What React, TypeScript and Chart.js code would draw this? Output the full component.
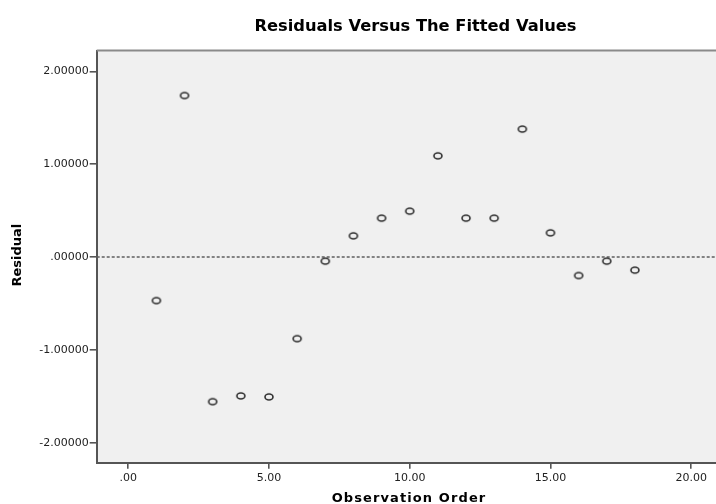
import { useEffect, useRef } from "react";
import { Chart, registerables } from "chart.js";

Chart.register(...registerables);

// Residual of each observation, in observation order
const observationOrder = [1, 2, 3, 4, 5, 6, 7, 8, 9, 10, 11, 12, 13, 14, 15, 16, 17, 18];
const residuals = [
  -0.469, 1.741, -1.558, -1.496, -1.507, -0.879, -0.044, 0.229, 0.419,
  0.495, 1.091, 0.419, 0.419, 1.379, 0.261, -0.199, -0.044, -0.141,
];

const xTickValues = [0, 5, 10, 15, 20];
const yTickValues = [-2, -1, 0, 1, 2];
const xRange = [-1.12, 20.88];
const yRange = [-2.216, 2.226];
const referenceResidual = 0;

const chartTitle = "Residuals Versus The Fitted Values";
const xAxisTitle = "Observation Order";
const yAxisTitle = "Residual";

const AXIS_COLOR = "#555555";
const TICK_FONT = { family: "'DejaVu Sans', sans-serif", size: 11 };

// SPSS-style number labels: leading zero dropped (".00", "-1.00000")
function spssNumber(v: number, digits: number): string {
  const s = Math.abs(v).toFixed(digits);
  const body = s.startsWith("0") ? s.slice(1) : s;
  return (v < 0 ? "-" : "") + body;
}

// Small open ellipse used as the point marker
function makeMarker(): HTMLCanvasElement {
  const c = document.createElement("canvas");
  c.width = 12;
  c.height = 10;
  const g = c.getContext("2d")!;
  g.strokeStyle = "#2e2e2e";
  g.lineWidth = 1.6;
  g.beginPath();
  g.ellipse(6, 5, 4.0, 3.0, 0, 0, Math.PI * 2);
  g.stroke();
  return c;
}

const plotFrame = {
  id: "plotFrame",
  beforeDraw(chart: any) {
    const { ctx, chartArea: a } = chart;
    ctx.save();
    ctx.fillStyle = "#ffffff";
    ctx.fillRect(0, 0, chart.width, chart.height);
    ctx.fillStyle = "#f0f0f0";
    ctx.fillRect(a.left, a.top, a.right - a.left, a.bottom - a.top);
    ctx.restore();
  },
  beforeDatasetsDraw(chart: any) {
    const { ctx, chartArea: a, scales } = chart;
    const y = scales.y.getPixelForValue(referenceResidual);
    ctx.save();
    ctx.strokeStyle = "#5e5e5e";
    ctx.lineWidth = 1.4;
    ctx.setLineDash([3, 2]);
    ctx.beginPath();
    ctx.moveTo(a.left, y);
    ctx.lineTo(a.right, y);
    ctx.stroke();
    ctx.restore();
  },
  afterDraw(chart: any) {
    const { ctx, chartArea: a } = chart;
    ctx.save();
    // top frame line
    ctx.strokeStyle = "#8a8a8a";
    ctx.lineWidth = 2;
    ctx.beginPath();
    ctx.moveTo(a.left, a.top);
    ctx.lineTo(a.right, a.top);
    ctx.stroke();

    ctx.fillStyle = "#000000";
    ctx.textAlign = "center";

    // chart title
    ctx.font = "bold 16.3px 'DejaVu Sans', sans-serif";
    ctx.textBaseline = "alphabetic";
    ctx.fillText(chartTitle, 415.5, 31);

    // x axis title
    ctx.font = "bold 13px 'DejaVu Sans', sans-serif";
    (ctx as any).letterSpacing = "1.1px";
    ctx.fillText(xAxisTitle, 409, 501.5);
    (ctx as any).letterSpacing = "0px";

    // y axis title
    ctx.font = "bold 13px 'DejaVu Sans', sans-serif";
    ctx.translate(17.5, (a.top + a.bottom) / 2 - 1.5);
    ctx.rotate(-Math.PI / 2);
    ctx.textBaseline = "middle";
    ctx.fillText(yAxisTitle, 0, 0);
    ctx.restore();
  },
};

export default function App() {
  const canvasRef = useRef<HTMLCanvasElement | null>(null);

  useEffect(() => {
    document.body.style.margin = "0";
    const canvas = canvasRef.current;
    if (!canvas) return;

    const marker = makeMarker();

    const chart = new Chart(canvas, {
      type: "scatter",
      data: {
        datasets: [
          {
            label: yAxisTitle,
            data: observationOrder.map((x, i) => ({ x, y: residuals[i] })),
            pointStyle: marker as any,
            pointRadius: 4,
            pointHoverRadius: 4,
            showLine: false,
          },
        ],
      },
      options: {
        responsive: false,
        devicePixelRatio: 1,
        animation: false,
        events: [],
        layout: {
          autoPadding: false,
          padding: { top: 50.5, right: 0, bottom: 0, left: 0 },
        },
        plugins: {
          legend: { display: false },
          title: { display: false },
          tooltip: { enabled: false },
        },
        scales: {
          x: {
            type: "linear",
            position: "bottom",
            min: xRange[0],
            max: xRange[1],
            afterBuildTicks: (s: any) => {
              s.ticks = xTickValues.map((v) => ({ value: v }));
            },
            afterFit: (s: any) => {
              s.height = 41.3;
              s.paddingLeft = 0;
              s.paddingRight = 0;
            },
            grid: {
              drawOnChartArea: false,
              drawTicks: true,
              tickLength: 6,
              color: AXIS_COLOR,
              lineWidth: 1.6,
            },
            border: { display: true, color: AXIS_COLOR, width: 2 },
            ticks: {
              font: TICK_FONT,
              color: "#222222",
              padding: 3,
              maxRotation: 0,
              autoSkip: false,
              callback: (v: any) => spssNumber(Number(v), 2),
            },
          },
          y: {
            type: "linear",
            position: "left",
            min: yRange[0],
            max: yRange[1],
            afterBuildTicks: (s: any) => {
              s.ticks = yTickValues.map((v) => ({ value: v }));
            },
            afterFit: (s: any) => {
              s.width = 96.7;
              s.paddingTop = 0;
              s.paddingBottom = 0;
            },
            grid: {
              drawOnChartArea: false,
              drawTicks: true,
              tickLength: 7,
              color: AXIS_COLOR,
              lineWidth: 1.6,
            },
            border: { display: true, color: AXIS_COLOR, width: 2 },
            ticks: {
              font: TICK_FONT,
              color: "#222222",
              padding: 1,
              autoSkip: false,
              callback: (v: any) => spssNumber(Number(v), 5),
            },
          },
        },
      },
      plugins: [plotFrame],
    });

    return () => chart.destroy();
  }, []);

  return (
    <div style={{ width: 716, height: 504 }}>
      <canvas ref={canvasRef} width={716} height={504} style={{ display: "block" }} />
    </div>
  );
}
